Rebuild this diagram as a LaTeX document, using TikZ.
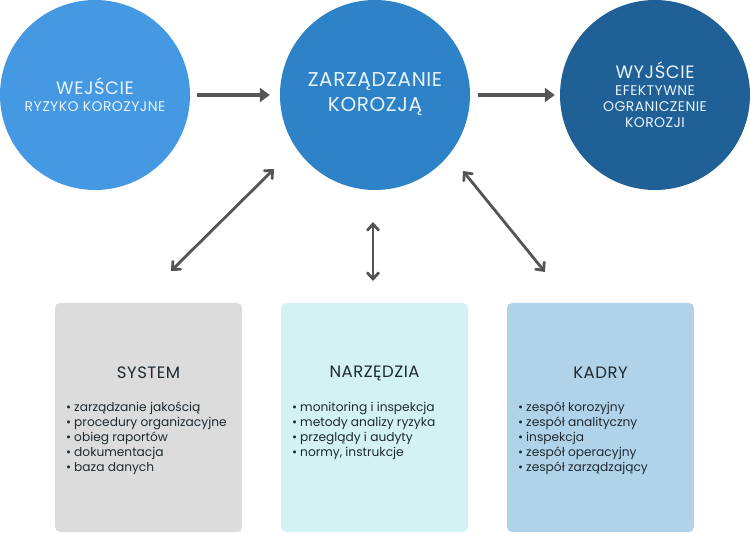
\documentclass[tikz,border=0pt]{standalone}
\usepackage{fontspec}
\setmainfont{Poppins}
\newfontfamily\spacedfont[LetterSpace=3]{Poppins}
\usetikzlibrary{arrows.meta}
\definecolor{cin}{HTML}{4499E2}
\definecolor{cmg}{HTML}{2E83C8}
\definecolor{cout}{HTML}{1F6097}
\definecolor{bsys}{HTML}{DCDCDC}
\definecolor{btool}{HTML}{D2F2F4}
\definecolor{bstaff}{HTML}{B1D3EA}
\definecolor{arr}{HTML}{555555}
\definecolor{ctext}{HTML}{EAF3FB}
\definecolor{btext}{HTML}{1E2A30}
\tikzset{
  circ/.style={circle, minimum size=190pt, inner sep=0pt, draw=none},
  big/.style={text=ctext, font=\spacedfont\fontsize{18}{20}\selectfont, inner sep=0pt},
  small/.style={text=ctext, font=\spacedfont\fontsize{14}{15}\selectfont, inner sep=0pt},
  card/.style={rounded corners=5pt, minimum width=187pt, minimum height=229pt, inner sep=0pt, draw=none},
  cardtitle/.style={text=btext, font=\spacedfont\fontsize{16.5}{18}\selectfont, inner sep=0pt},
  items/.style={text=btext, font=\fontsize{12.2}{15}\selectfont, align=left, inner sep=0pt, anchor=north west},
  harrow/.style={draw=arr, line width=3.2pt, -{Triangle[length=10pt,width=14pt]}},
  darrow/.style={draw=arr, line width=2.8pt, {Straight Barb[length=6pt,width=11pt,line cap=round]}-{Straight Barb[length=6pt,width=11pt,line cap=round]}, line cap=round},
}
\newcommand{\itm}[1]{\textbullet\hspace{3pt}#1}
\begin{document}
\begin{tikzpicture}[x=1pt,y=-1pt]
\useasboundingbox (0,0) rectangle (750,534);
\begin{scope}
\clip (0,0) rectangle (750,534);
\node[circ, fill=cin] (in) at (95,95) {};
\node[circ, fill=cmg] (mg) at (375,95) {};
\node[circ, fill=cout] (out) at (655,95) {};
\end{scope}
% circle texts
\node[big] (inT) at (95,86) {WEJŚCIE};
\node[small] (inS) at (95,107) {RYZYKO KOROZYJNE};
\node[big, font=\spacedfont\fontsize{20}{22}\selectfont] (mgT1) at (375,82) {ZARZĄDZANIE};
\node[big, font=\spacedfont\fontsize{20}{22}\selectfont] (mgT2) at (375,107) {KOROZJĄ};
\node[big] (outT) at (655,70) {WYJŚCIE};
\node[small] (outS1) at (655,91) {EFEKTYWNE};
\node[small] (outS2) at (655,107) {OGRANICZENIE};
\node[small] (outS3) at (655,123) {KOROZJI};
% cards
\node[card, fill=bsys] (sys) at (148.5,417.5) {};
\node[card, fill=btool] (tool) at (374.5,417.5) {};
\node[card, fill=bstaff] (staff) at (600.5,417.5) {};
\node[cardtitle] (sysT) at (148.5,373) {SYSTEM};
\node[cardtitle] (toolT) at (374.5,373) {NARZĘDZIA};
\node[cardtitle] (staffT) at (600.5,373) {KADRY};
\node[items] (sysL) at (66,402) {\itm{zarządzanie jakością}\\\itm{procedury organizacyjne}\\\itm{obieg raportów}\\\itm{dokumentacja}\\\itm{baza danych}};
\node[items] (toolL) at (292,402) {\itm{monitoring i inspekcja}\\\itm{metody analizy ryzyka}\\\itm{przeglądy i audyty}\\\itm{normy, instrukcje}};
\node[items] (staffL) at (518,402) {\itm{zespół korozyjny}\\\itm{zespół analityczny}\\\itm{inspekcja}\\\itm{zespół operacyjny}\\\itm{zespół zarządzający}};
% arrows
\draw[harrow] (in.east) ++(7,0) coordinate (a1s) -- ([xshift=-10pt]mg.west);
\draw[harrow] (mg.east) ++(8,0) coordinate (a2s) -- ([xshift=-5pt]out.west);
\coordinate (d1a) at (274,169);
\coordinate (d1b) at (171,271);
\coordinate (d2a) at (373,222);
\coordinate (d2b) at (373,281);
\coordinate (d3a) at (463,171);
\coordinate (d3b) at (545,272);
\draw[darrow] (d1a) -- (d1b);
\draw[darrow] (d2a) -- (d2b);
\draw[darrow] (d3a) -- (d3b);
\end{tikzpicture}
\end{document}
